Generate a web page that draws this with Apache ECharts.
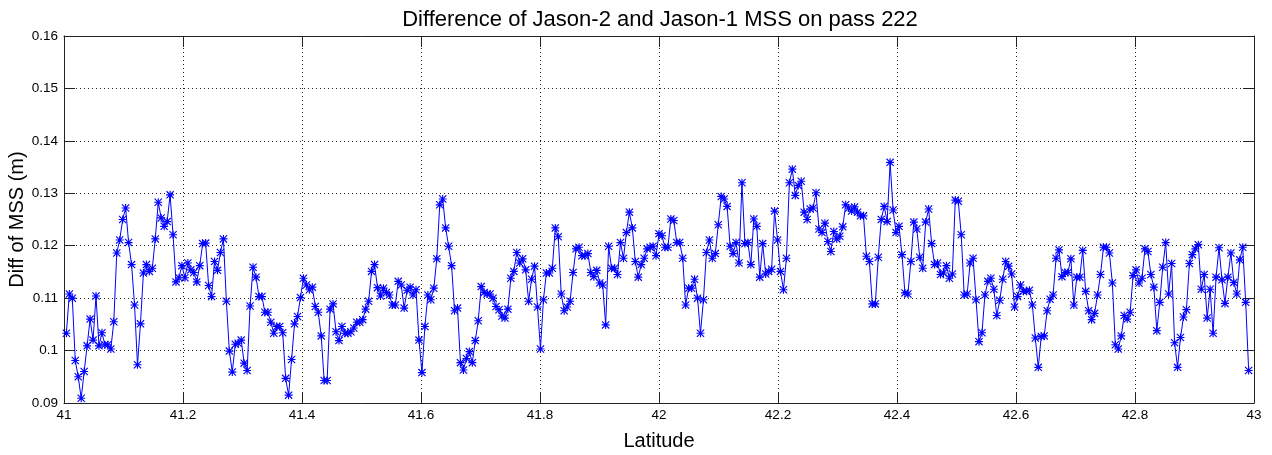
<!DOCTYPE html>
<html>
<head>
<meta charset="utf-8">
<script src="https://cdn.jsdelivr.net/npm/echarts@6/dist/echarts.min.js"></script>
<style>
html,body{margin:0;padding:0;background:#fff;}
#chart{width:1272px;height:455px;}
</style>
</head>
<body>
<div id="chart"></div>
<script>
// Latitude sampling of the pass
const latStart = 41.004;
const latStep = 0.00498;

// Diff of MSS (m), in latitude order
const mssDiff = [
  0.1033, 0.1108, 0.1100, 0.0981, 0.0950, 0.0909, 0.0960, 0.1009, 0.1060, 0.1020,
  0.1104, 0.1009, 0.1034, 0.1011, 0.1011, 0.1003, 0.1055, 0.1186, 0.1211, 0.1250,
  0.1272, 0.1206, 0.1164, 0.1087, 0.0973, 0.1051, 0.1148, 0.1164, 0.1151, 0.1157,
  0.1213, 0.1283, 0.1253, 0.1237, 0.1246, 0.1297, 0.1221,
  0.1131, 0.1139, 0.1162, 0.1139, 0.1167, 0.1154, 0.1149, 0.1131, 0.1162, 0.1204,
  0.1205, 0.1124, 0.1103, 0.1170, 0.1153, 0.1187, 0.1213, 0.1094, 0.0999, 0.0959,
  0.1012, 0.1014, 0.1020, 0.0976, 0.0962, 0.1085, 0.1159, 0.1140, 0.1103, 0.1103,
  0.1073, 0.1073, 0.1054, 0.1033,
  0.1046, 0.1046, 0.1034, 0.0947, 0.0915, 0.0983, 0.1051, 0.1065, 0.1101, 0.1138,
  0.1125, 0.1116, 0.1121, 0.1084, 0.1073, 0.1028, 0.0943, 0.0943, 0.1079, 0.1089,
  0.1036, 0.1019, 0.1046, 0.1033, 0.1033, 0.1036, 0.1043, 0.1054, 0.1054, 0.1059,
  0.1079, 0.1094, 0.1151, 0.1164,
  0.1120, 0.1104, 0.1119, 0.1111, 0.1106, 0.1087, 0.1087, 0.1132, 0.1125, 0.1081,
  0.1115, 0.1121, 0.1106, 0.1116, 0.1020, 0.0958, 0.1046, 0.1106, 0.1097, 0.1119,
  0.1175, 0.1278, 0.1289, 0.1234, 0.1199, 0.1162, 0.1076, 0.1081, 0.0977, 0.0963,
  0.0985, 0.0998, 0.0977, 0.1019, 0.1057, 0.1122,
  0.1111, 0.1108, 0.1108, 0.1100, 0.1084, 0.1078, 0.1066, 0.1062, 0.1079, 0.1138,
  0.1151, 0.1187, 0.1167, 0.1175, 0.1154, 0.1094, 0.1136, 0.1161, 0.1083, 0.1003,
  0.1097, 0.1148, 0.1148, 0.1157, 0.1234, 0.1217, 0.1108, 0.1076, 0.1083, 0.1094,
  0.1149, 0.1194, 0.1197, 0.1181, 0.1181,
  0.1185, 0.1149, 0.1141, 0.1153, 0.1129, 0.1125, 0.1049, 0.1199, 0.1157, 0.1157,
  0.1145, 0.1206, 0.1176, 0.1225, 0.1264, 0.1234, 0.1170, 0.1140, 0.1164, 0.1176,
  0.1194, 0.1197, 0.1199, 0.1181, 0.1223, 0.1219, 0.1197, 0.1197, 0.1251, 0.1248,
  0.1206, 0.1206, 0.1176, 0.1087, 0.1119, 0.1119, 0.1136,
  0.1100, 0.1033, 0.1097, 0.1187, 0.1211, 0.1176, 0.1185, 0.1240, 0.1294, 0.1289,
  0.1275, 0.1199, 0.1185, 0.1206, 0.1167, 0.1320, 0.1204, 0.1206, 0.1164, 0.1251,
  0.1237, 0.1140, 0.1204, 0.1146, 0.1151, 0.1155, 0.1266, 0.1211, 0.1151, 0.1116,
  0.1176, 0.1320, 0.1346, 0.1296,
  0.1315, 0.1323, 0.1264, 0.1250, 0.1270, 0.1272, 0.1301, 0.1232, 0.1225, 0.1243,
  0.1208, 0.1189, 0.1227, 0.1213, 0.1218, 0.1236, 0.1278, 0.1272, 0.1266, 0.1274,
  0.1264, 0.1257, 0.1257, 0.1180, 0.1170, 0.1089, 0.1089, 0.1178, 0.1250, 0.1275,
  0.1246, 0.1359, 0.1268, 0.1225, 0.1237,
  0.1183, 0.1110, 0.1108, 0.1170, 0.1245, 0.1232, 0.1178, 0.1157, 0.1245, 0.1270,
  0.1204, 0.1164, 0.1167, 0.1145, 0.1148, 0.1162, 0.1138, 0.1146, 0.1287, 0.1285,
  0.1221, 0.1106, 0.1108, 0.1167, 0.1176, 0.1097, 0.1017, 0.1034, 0.1106, 0.1132,
  0.1138, 0.1117, 0.1067, 0.1096, 0.1136, 0.1170,
  0.1161, 0.1146, 0.1083, 0.1103, 0.1125, 0.1113, 0.1113, 0.1115, 0.1087, 0.1024,
  0.0968, 0.1027, 0.1028, 0.1076, 0.1098, 0.1106, 0.1176, 0.1192, 0.1141, 0.1149,
  0.1149, 0.1175, 0.1087, 0.1140, 0.1140, 0.1191, 0.1113, 0.1076, 0.1059, 0.1071,
  0.1106, 0.1145, 0.1197, 0.1197, 0.1186, 0.1129,
  0.1011, 0.1003, 0.1028, 0.1067, 0.1060, 0.1073, 0.1143, 0.1154, 0.1129, 0.1138,
  0.1194, 0.1189, 0.1145, 0.1121, 0.1038, 0.1092, 0.1159, 0.1206, 0.1108, 0.1166,
  0.1015, 0.0968, 0.1025, 0.1064, 0.1078, 0.1166, 0.1183, 0.1194, 0.1202, 0.1117,
  0.1145, 0.1062, 0.1117, 0.1033, 0.1140, 0.1196, 0.1135, 0.1090, 0.1140, 0.1186,
  0.1130, 0.1108, 0.1173, 0.1197, 0.1092, 0.0962
];

const xTicks = { min: 41, max: 43, interval: 0.2 };
const yTicks = { min: 0.09, max: 0.16, interval: 0.01 };

const titleText = 'Difference of Jason-2 and Jason-1 MSS on pass 222';
const xName = 'Latitude';
const yName = 'Diff of MSS (m)';

const seriesData = mssDiff.map((v, i) => [latStart + i * latStep, v]);

const asterisk = 'path://M4.3 0H5.7V10H4.3Z M0 4.3H10V5.7H0Z M1 0L10 9L9 10L0 1Z M9 0L10 1L1 10L0 9Z';

const FONT = '"Liberation Sans", Arial, Helvetica, sans-serif';
const gridLine = { show: true, lineStyle: { color: '#222', type: [1, 3], width: 1 } };
const axisLineStyle = { show: true, onZero: false, lineStyle: { color: '#222', width: 1 } };

const GRID = { left: 64, right: 18, top: 36, bottom: 52 };
const plotCenterX = GRID.left + (1272 - GRID.left - GRID.right) / 2;

const chart = echarts.init(document.getElementById('chart'), null, { renderer: 'canvas' });
chart.setOption({
  backgroundColor: '#fff',
  animation: false,
  title: {
    text: titleText,
    left: plotCenterX - 4,
    textAlign: 'center',
    top: 4,
    textStyle: { fontFamily: FONT, fontSize: 22, fontWeight: 'normal', color: '#000' }
  },
  grid: { left: GRID.left, right: GRID.right, top: GRID.top, bottom: GRID.bottom,
    containLabel: false, outerBoundsMode: 'none' },
  xAxis: [
    {
      type: 'value', min: xTicks.min, max: xTicks.max, interval: xTicks.interval,
      position: 'bottom',
      name: xName, nameLocation: 'middle', nameGap: 28, nameMoveOverlap: false,
      nameTextStyle: { fontFamily: FONT, fontSize: 20, color: '#000' },
      axisLine: axisLineStyle,
      axisTick: { show: true, inside: true, length: 11, lineStyle: { color: '#222' } },
      axisLabel: { fontFamily: FONT, fontSize: 13.5, color: '#000', margin: 5,
        formatter: v => String(parseFloat(v.toFixed(1))) },
      splitLine: gridLine
    },
    {
      type: 'value', min: xTicks.min, max: xTicks.max, interval: xTicks.interval,
      position: 'top',
      axisLine: axisLineStyle,
      axisTick: { show: true, inside: true, length: 11, lineStyle: { color: '#222' } },
      axisLabel: { show: false },
      splitLine: { show: false }
    }
  ],
  yAxis: [
    {
      type: 'value', min: yTicks.min, max: yTicks.max, interval: yTicks.interval,
      position: 'left',
      name: yName, nameLocation: 'middle', nameGap: 37, nameMoveOverlap: false,
      nameTextStyle: { fontFamily: FONT, fontSize: 20, color: '#000' },
      axisLine: axisLineStyle,
      axisTick: { show: true, inside: true, length: 11, lineStyle: { color: '#222' } },
      axisLabel: { fontFamily: FONT, fontSize: 13.5, color: '#000', margin: 6,
        formatter: v => String(parseFloat(v.toFixed(2))) },
      splitLine: gridLine
    },
    {
      type: 'value', min: yTicks.min, max: yTicks.max, interval: yTicks.interval,
      position: 'right',
      axisLine: axisLineStyle,
      axisTick: { show: true, inside: true, length: 11, lineStyle: { color: '#222' } },
      axisLabel: { show: false },
      splitLine: { show: false }
    }
  ],
  series: [{
    type: 'line',
    data: seriesData,
    xAxisIndex: 0,
    yAxisIndex: 0,
    symbol: asterisk,
    symbolSize: 8,
    showAllSymbol: true,
    lineStyle: { color: '#0000ff', width: 1 },
    itemStyle: { color: '#0000ff' },
    emphasis: { disabled: true }
  }]
});
</script>
</body>
</html>
